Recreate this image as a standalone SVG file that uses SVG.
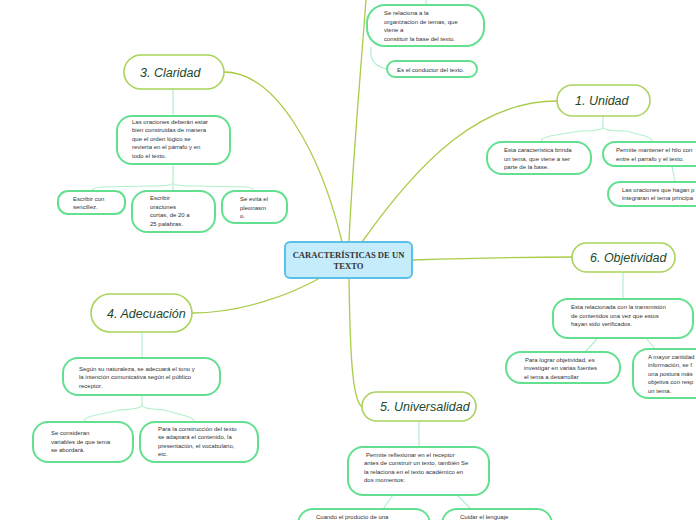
<svg xmlns="http://www.w3.org/2000/svg" width="696" height="520" viewBox="0 0 696 520">
<style>
.main{fill:#fff;stroke:#a9d35c;stroke-width:1.6}
.sub{fill:#fff;stroke:#62e08f;stroke-width:2}
.mt{font-family:"Liberation Sans",sans-serif;font-style:italic;font-size:12.5px;fill:#1d4a2c}
.t{font-family:"Liberation Sans",sans-serif;font-size:6px;fill:#333}
.cm{fill:none;stroke:#a9cc4a;stroke-width:1.3}
.cs{fill:none;stroke:#b3efcb;stroke-width:1.2}
</style>
<rect width="696" height="520" fill="#fff"/>
<g id="connectors">
<path class="cm" d="M224,72 C275,72 320,150 342,242"/>
<path class="cm" d="M366,0 C360,80 352,170 349,242"/>
<path class="cm" d="M362,242 C420,160 480,101 557,101"/>
<path class="cm" d="M412,260 C480,258 520,257 572,257"/>
<path class="cm" d="M320,278 C290,295 240,313 192,313"/>
<path class="cm" d="M349,278 C350,350 352,400 362,407"/>
<path class="cs" d="M426,0 L426,5"/>
<path class="cs" d="M371,47 L371,56 Q374,67 387,69"/>
<path class="cs" d="M173,89 L173,116"/>
<path class="cs" d="M173,164 L173,183 Q173,186 150,186 L100,187 Q92,188 92,191"/>
<path class="cs" d="M173,183 L173,191"/>
<path class="cs" d="M173,183 Q173,186 196,186 L246,187 Q254,188 254,191"/>
<path class="cs" d="M603,116 L603,127 Q603,131 580,131 L550,136 Q541,138 541,142"/>
<path class="cs" d="M603,127 Q603,131 626,131 L645,136 Q652,138 652,142"/>
<path class="cs" d="M672,166 L675,182"/>
<path class="cs" d="M623,272 L623,299"/>
<path class="cs" d="M597,339 L585,352"/>
<path class="cs" d="M647,339 L655,349"/>
<path class="cs" d="M142,332 L142,358"/>
<path class="cs" d="M142,395 L142,405 Q142,409 120,410 L92,416 Q84,418 84,422"/>
<path class="cs" d="M142,405 Q142,409 164,410 L186,416 Q194,418 194,422"/>
<path class="cs" d="M419,421 L419,447"/>
<path class="cs" d="M393,495 L383,509"/>
<path class="cs" d="M457,495 L470,508"/>
</g>
<g id="center">
<rect x="285" y="242" width="127" height="36" rx="5" fill="#c5ecfb" stroke="#5bc0e8" stroke-width="2"/>
<text x="348.5" y="258" text-anchor="middle" font-family="Liberation Serif,serif" font-weight="bold" font-size="8.6" fill="#333">CARACTERÍSTICAS DE UN</text>
<text x="348.5" y="269" text-anchor="middle" font-family="Liberation Serif,serif" font-weight="bold" font-size="8.6" fill="#333">TEXTO</text>
</g>
<g id="top-a">
<rect class="sub" x="367" y="5" width="117" height="41" rx="18"/>
<text class="t" x="384" y="15">Se relaciona a la</text>
<text class="t" x="384" y="23.5">organizacion de temas, que</text>
<text class="t" x="384" y="32">viene a</text>
<text class="t" x="384" y="40.5">constituir  la base del texto.</text>
</g>
<g id="top-b">
<rect class="sub" x="387" y="61" width="90" height="16" rx="8"/>
<text class="t" x="397" y="71.5">Es el conductor del texto.</text>
</g>
<g id="claridad">
<rect class="main" x="124" y="55" width="100" height="34" rx="17"/>
<text class="mt" x="140" y="77">3. Claridad</text>
</g>
<g id="claridad-1">
<rect class="sub" x="117" y="116" width="113" height="48" rx="15"/>
<text class="t" x="132" y="123.5">Las oraciones deberán estar</text>
<text class="t" x="132" y="132">bien construidas de manera</text>
<text class="t" x="132" y="140.5">que el orden lógico se</text>
<text class="t" x="132" y="149">revierta en el párrafo y en</text>
<text class="t" x="132" y="157.5">todo el texto.</text>
</g>
<g id="claridad-2">
<rect class="sub" x="58" y="191" width="67" height="23" rx="10"/>
<text class="t" x="73" y="200.5">Escribir con</text>
<text class="t" x="73" y="209">sencillez.</text>
</g>
<g id="claridad-3">
<rect class="sub" x="132" y="191" width="83" height="41" rx="15"/>
<text class="t" x="150" y="200">Escribir</text>
<text class="t" x="150" y="208.5">oraciones</text>
<text class="t" x="150" y="217">cortas, de 20 a</text>
<text class="t" x="150" y="225.5">25 palabras.</text>
</g>
<g id="claridad-4">
<rect class="sub" x="222" y="191" width="65" height="32" rx="13"/>
<text class="t" x="240" y="201">Se evita el</text>
<text class="t" x="240" y="209.5">pleonasm</text>
<text class="t" x="240" y="218">o.</text>
</g>
<g id="unidad">
<rect class="main" x="557" y="85" width="93" height="31" rx="15.5"/>
<text class="mt" x="575" y="105">1. Unidad</text>
</g>
<g id="unidad-1">
<rect class="sub" x="487" y="142" width="104" height="32" rx="15"/>
<text class="t" x="504" y="152">Esta característica brinda</text>
<text class="t" x="504" y="160.5">un tema, que viene a ser</text>
<text class="t" x="504" y="169">parte de la base.</text>
</g>
<g id="unidad-2">
<rect class="sub" x="603" y="142" width="110" height="24" rx="12"/>
<text class="t" x="616" y="152">Permite mantener el hilo con</text>
<text class="t" x="616" y="160.5">entre  el parrafo y el texto.</text>
</g>
<g id="unidad-3">
<rect class="sub" x="608" y="182" width="105" height="24" rx="12"/>
<text class="t" x="622" y="191.5">Las oraciones que hagan p</text>
<text class="t" x="622" y="200">integraran el tema principa</text>
</g>
<g id="objetividad">
<rect class="main" x="572" y="243" width="103" height="29" rx="14.5"/>
<text class="mt" x="590" y="262">6. Objetividad</text>
</g>
<g id="objetividad-1">
<rect class="sub" x="553" y="299" width="140" height="39" rx="15"/>
<text class="t" x="571" y="309">Esta relacionada con la transmisión</text>
<text class="t" x="571" y="317.5">de contenidos una vez que estos</text>
<text class="t" x="571" y="326">hayan sido verificados.</text>
</g>
<g id="objetividad-2">
<rect class="sub" x="506" y="352" width="114" height="31" rx="15"/>
<text class="t" x="525" y="361.5">Para lograr objetividad, es</text>
<text class="t" x="524" y="370">investigar en varias fuentes</text>
<text class="t" x="524" y="378.5">el tema a desarrollar</text>
</g>
<g id="objetividad-3">
<rect class="sub" x="633" y="349" width="80" height="49" rx="15"/>
<text class="t" x="648" y="358.5">A mayor cantidad</text>
<text class="t" x="648" y="367">información, se f</text>
<text class="t" x="648" y="375.5">una postura más</text>
<text class="t" x="648" y="384">objetiva con resp</text>
<text class="t" x="648" y="392.5">un tema.</text>
</g>
<g id="adecuacion">
<rect class="main" x="91" y="294" width="101" height="38" rx="19"/>
<text class="mt" x="107" y="318">4. Adecuación</text>
</g>
<g id="adecuacion-1">
<rect class="sub" x="63" y="358" width="157" height="37" rx="15"/>
<text class="t" x="79" y="370.5">Según su naturaleza, se adecuará el tono y</text>
<text class="t" x="79" y="379">la intención comunicativa según el público</text>
<text class="t" x="79" y="387.5">receptor.</text>
</g>
<g id="adecuacion-2">
<rect class="sub" x="33" y="422" width="100" height="40" rx="15"/>
<text class="t" x="51" y="435">Se consideran</text>
<text class="t" x="51" y="443.5">variables de que tema</text>
<text class="t" x="51" y="452">se abordará.</text>
</g>
<g id="adecuacion-3">
<rect class="sub" x="140" y="422" width="118" height="40" rx="15"/>
<text class="t" x="158" y="430.5">Para la construcción del texto</text>
<text class="t" x="158" y="439">se adaptará el contenido, la</text>
<text class="t" x="158" y="447.5">presentación, el vocabulario,</text>
<text class="t" x="158" y="456">etc.</text>
</g>
<g id="universalidad">
<rect class="main" x="362" y="392" width="114" height="29" rx="14.5"/>
<text class="mt" x="380" y="411">5. Universalidad</text>
</g>
<g id="universalidad-1">
<rect class="sub" x="348" y="447" width="141" height="48" rx="15"/>
<text class="t" x="366" y="456.5">Permite reflexionar en el receptor</text>
<text class="t" x="364" y="465">antes de construir un texto, también Se</text>
<text class="t" x="364" y="473.5">la relaciona en el texto académico en</text>
<text class="t" x="364" y="482">dos momentos:</text>
</g>
<g id="universalidad-2">
<rect class="sub" x="298" y="509" width="132" height="30" rx="15"/>
<text class="t" x="316" y="518.5">Cuando el producto de una</text>
</g>
<g id="universalidad-3">
<rect class="sub" x="442" y="509" width="110" height="30" rx="15"/>
<text class="t" x="460" y="518.5">Cuidar el lenguaje</text>
</g>
</svg>
